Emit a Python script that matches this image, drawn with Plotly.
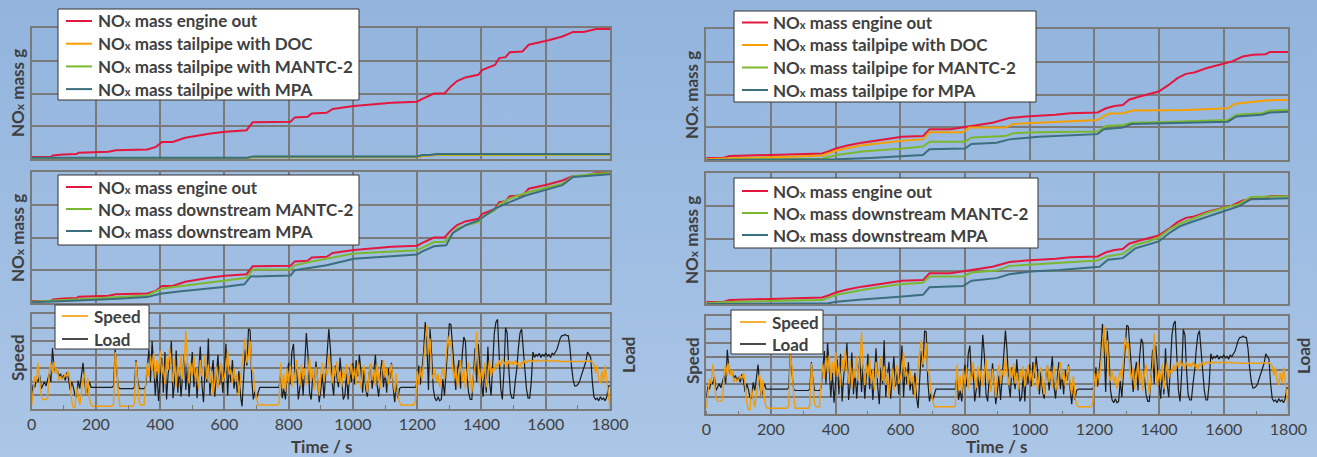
import base64
import plotly.graph_objects as go

W, H = 1317, 457

# ---------------- data ----------------
time_5s = list(range(0, 1801, 5))

speed = [
    0.2, 1.6, 2.4, 2.0, 3.4, 2.2, 1.0, 0.7, 0.7, 0.7, 0.8, 2.8, 3.4, 2.6, 3.5, 2.6, 3.0, 2.1, 2.4, 2.2,
    2.3, 2.6, 2.4, 2.8, 2.0, 0.6, 0.1, 0.1, 1.6, 0.9, 0.3, 1.2, 2.2, 2.7, 1.0, 2.3, 0.8, 0.3, 0.2, 0.2,
    0.2, 0.2, 0.2, 0.2, 0.2, 0.2, 0.2, 0.2, 0.2, 0.2, 0.2, 0.4, 4.2, 3.2, 1.2, 0.2, 0.2, 0.2, 0.2, 0.2,
    0.2, 0.2, 0.2, 0.2, 0.4, 3.5, 2.0, 0.5, 0.3, 0.3, 0.3, 2.0, 3.4, 2.4, 3.9, 2.8, 4.1, 2.2, 3.6, 2.6,
    4.3, 2.5, 3.3, 1.8, 3.8, 2.9, 4.5, 3.0, 2.0, 3.7, 1.6, 3.2, 2.4, 4.0, 2.2, 3.6, 5.8, 3.3, 1.9, 3.4,
    2.5, 3.9, 2.0, 3.0, 1.5, 3.6, 2.4, 3.0, 4.0, 2.2, 3.3, 1.9, 2.8, 1.0, 2.3, 3.1, 1.5, 2.6, 3.4, 2.0,
    2.4, 3.0, 4.3, 2.5, 2.9, 1.9, 3.0, 2.0, 2.6, 1.0, 2.2, 3.0, 4.4, 5.2, 3.4, 4.0, 5.0, 3.0, 2.6, 1.4,
    0.8, 0.3, 0.3, 0.3, 0.3, 0.3, 0.3, 0.3, 0.3, 0.3, 0.3, 0.3, 0.3, 0.3, 0.4, 3.4, 1.5, 2.6, 1.3, 3.0,
    2.0, 3.2, 1.6, 2.8, 2.1, 3.6, 2.4, 1.7, 3.3, 2.2, 3.0, 1.8, 2.7, 3.8, 2.0, 2.9, 1.4, 3.1, 2.3, 1.0,
    2.6, 3.4, 2.0, 3.0, 2.5, 4.0, 2.8, 1.9, 3.2, 2.4, 3.5, 2.0, 2.8, 1.6, 3.0, 2.2, 3.3, 1.8, 2.6, 3.4,
    2.2, 3.0, 1.8, 3.5, 2.4, 1.5, 2.8, 3.2, 2.0, 1.2, 2.6, 3.4, 2.1, 2.9, 1.7, 3.3, 2.4, 1.5, 2.8, 3.6,
    2.3, 3.0, 1.8, 2.7, 3.3, 2.0, 1.2, 2.6, 1.0, 0.5, 0.3, 0.3, 0.3, 0.3, 0.3, 0.3, 0.3, 0.3, 0.3, 0.6,
    2.8, 1.8, 3.0, 2.2, 3.5, 4.8, 6.2, 4.0, 5.2, 2.6, 2.2, 3.0, 2.0, 2.6, 1.6, 2.4, 3.0, 2.2, 4.0, 5.4,
    4.6, 5.0, 3.0, 2.2, 3.2, 1.6, 2.6, 3.6, 2.0, 3.0, 1.5, 2.8, 3.4, 2.0, 1.2, 2.6, 3.2, 5.7, 3.0, 1.8,
    3.0, 2.2, 3.4, 1.6, 2.6, 3.6, 2.4, 3.0, 2.8, 3.4, 3.0, 3.6, 3.2, 3.7, 3.3, 3.5, 3.1, 3.6, 3.3, 3.5,
    3.2, 3.6, 3.3, 3.4, 3.0, 3.5, 3.3, 3.6, 3.4, 3.6, 3.5, 3.6, 3.5, 3.6, 3.5, 3.6, 3.55, 3.5, 3.6, 3.55,
    3.55, 3.6, 3.5, 3.55, 3.6, 3.5, 3.55, 3.5, 3.55, 3.5, 3.5, 3.45, 3.5, 3.5, 3.45, 3.5, 3.5, 3.45, 3.5, 3.5,
    3.5, 3.5, 3.45, 3.5, 3.5, 3.55, 3.5, 3.5, 3.55, 3.4, 3.3, 2.6, 3.2, 2.2, 1.9, 2.8, 2.0, 3.2, 2.2, 0.8,
    0.0,
]

load = [
    1.0, 1.8, 1.6, 2.2, 2.0, 2.5, 1.5, 1.8, 2.0, 1.7, 2.1, 2.6, 2.0, 4.5, 3.0, 2.7, 2.9, 2.4, 2.6, 2.2,
    2.5, 2.1, 2.7, 2.2, 1.4, 2.0, 1.6, 1.0, 0.9, 2.1, 1.5, 2.4, 3.4, 2.0, 1.0, 1.5, 2.0, 1.6, 1.6, 1.6,
    1.6, 1.6, 1.6, 1.6, 1.6, 1.6, 1.6, 1.6, 1.6, 1.6, 1.6, 1.7, 4.4, 2.8, 1.6, 1.5, 1.5, 1.5, 1.5, 1.5,
    1.5, 1.5, 1.5, 1.5, 1.6, 3.6, 2.2, 1.5, 1.5, 1.5, 1.5, 1.7, 3.0, 4.4, 2.0, 5.0, 3.2, 1.0, 2.8, 0.6,
    2.2, 3.8, 1.2, 4.2, 0.7, 2.6, 3.5, 5.0, 0.8, 2.0, 4.3, 1.2, 3.0, 0.9, 2.6, 4.0, 1.4, 3.4, 0.9, 2.4,
    4.2, 1.6, 3.0, 0.8, 2.5, 4.6, 1.8, 0.5, 3.2, 2.0, 5.2, 1.0, 2.6, 3.6, 0.9, 2.4, 4.0, 1.8, 3.0, 1.2,
    2.8, 4.8, 1.0, 3.2, 2.0, 3.6, 1.5, 2.4, 1.2, 2.8, 1.0, 0.2, 2.4, 4.4, 3.2, 5.9, 5.8, 2.2, 0.7, 1.3,
    0.8, 1.3, 1.6, 1.6, 1.6, 1.6, 1.6, 1.6, 1.6, 1.6, 1.6, 1.6, 1.6, 1.6, 1.6, 2.6, 0.8, 1.5, 0.7, 2.5,
    3.4, 1.8, 4.2, 4.8, 2.4, 3.0, 0.7, 1.6, 2.8, 1.0, 3.8, 5.6, 4.0, 1.2, 0.7, 2.5, 1.6, 3.5, 2.2, 0.5,
    1.4, 2.6, 0.8, 2.2, 4.2, 5.9, 4.4, 2.0, 1.0, 3.2, 2.4, 1.6, 3.8, 2.0, 0.7, 1.0, 2.6, 0.7, 3.0, 2.0,
    3.4, 1.8, 3.6, 2.4, 4.0, 2.8, 1.2, 3.0, 1.4, 0.9, 2.6, 3.3, 1.5, 2.8, 4.0, 1.8, 0.9, 2.4, 3.6, 1.6,
    2.8, 1.2, 3.0, 2.2, 3.4, 1.6, 0.5, 2.0, 0.8, 1.5, 1.6, 1.6, 1.6, 1.6, 1.6, 1.6, 1.6, 1.6, 1.6, 1.6,
    2.0, 3.2, 1.8, 2.8, 4.2, 6.4, 5.0, 1.4, 5.9, 4.0, 1.5, 0.8, 0.6, 0.9, 0.6, 0.7, 2.2, 1.0, 3.0, 5.0,
    6.3, 6.2, 4.4, 2.6, 1.4, 2.8, 3.6, 1.5, 4.0, 5.3, 5.0, 2.4, 1.2, 0.7, 0.7, 2.5, 4.5, 2.0, 4.8, 3.2,
    1.8, 0.9, 3.0, 1.2, 4.6, 2.0, 1.0, 3.4, 5.6, 6.4, 6.6, 4.0, 1.5, 0.7, 2.8, 6.0, 5.6, 3.0, 1.2, 0.8,
    0.8, 2.0, 3.0, 4.5, 5.6, 5.9, 4.2, 2.6, 1.5, 0.8, 0.8, 2.0, 4.2, 3.8, 4.0, 3.9, 4.1, 3.8, 4.0, 3.9,
    4.1, 3.9, 4.0, 3.8, 4.1, 4.0, 4.2, 4.4, 4.8, 5.2, 5.4, 5.4, 5.5, 5.4, 5.4, 4.6, 3.2, 2.2, 1.7, 1.7,
    1.8, 2.0, 2.4, 2.8, 3.2, 3.5, 4.2, 4.0, 3.8, 2.0, 0.9, 0.7, 0.8, 0.6, 0.9, 0.7, 0.8, 0.6, 0.9, 1.7,
    1.7,
]

# left column cumulative NOx (grid units)
L_eo_t = [0, 60, 66, 98, 140, 146, 240, 262, 360, 387, 406, 439, 478, 557, 603, 669, 688, 806, 819, 859,
          872, 918, 937, 1003, 1121, 1200, 1213, 1232, 1252, 1285, 1304, 1324, 1350, 1390, 1403, 1442,
          1455, 1475, 1488, 1527, 1547, 1606, 1652, 1685, 1718, 1757, 1800]
L_eo_v = [0.06, 0.06, 0.11, 0.14, 0.15, 0.19, 0.22, 0.27, 0.29, 0.37, 0.52, 0.52, 0.65, 0.78, 0.83, 0.88,
          1.12, 1.14, 1.27, 1.29, 1.39, 1.41, 1.53, 1.62, 1.72, 1.75, 1.82, 1.92, 2.0, 2.0, 2.21, 2.38,
          2.49, 2.57, 2.72, 2.87, 3.08, 3.11, 3.26, 3.28, 3.49, 3.62, 3.74, 3.88, 3.88, 3.97, 3.97]

L_doc_t = [0, 670, 690, 1200, 1220, 1260, 1800]
L_doc_v = [0.01, 0.02, 0.05, 0.05, 0.09, 0.12, 0.13]
L_mantc_t = [0, 670, 690, 1200, 1215, 1260, 1800]
L_mantc_v = [0.03, 0.03, 0.07, 0.07, 0.11, 0.14, 0.14]
L_mpa_t = [0, 670, 690, 1200, 1215, 1240, 1260, 1800]
L_mpa_v = [0.04, 0.04, 0.08, 0.08, 0.12, 0.12, 0.15, 0.15]

L_dmantc_t = [0, 72, 144, 262, 360, 406, 478, 603, 669, 688, 806, 819, 872, 937, 1003, 1200, 1232,
              1252, 1285, 1304, 1324, 1350, 1390, 1403, 1442, 1455, 1488, 1547, 1606, 1652, 1685, 1757, 1800]
L_dmantc_v = [0.04, 0.08, 0.13, 0.18, 0.23, 0.44, 0.54, 0.69, 0.77, 1.02, 1.02, 1.15, 1.27, 1.40, 1.51,
              1.61, 1.76, 1.86, 1.86, 2.07, 2.27, 2.37, 2.47, 2.63, 2.83, 3.01, 3.19, 3.39, 3.52, 3.64,
              3.87, 3.95, 3.97]
L_dmpa_t = [0, 72, 144, 269, 360, 400, 465, 597, 662, 682, 806, 819, 918, 1003, 1200, 1213, 1252, 1290,
            1311, 1350, 1390, 1442, 1475, 1540, 1652, 1685, 1757, 1800]
L_dmpa_v = [0.02, 0.04, 0.08, 0.13, 0.18, 0.28, 0.36, 0.49, 0.57, 0.81, 0.84, 1.00, 1.15, 1.35, 1.48,
            1.56, 1.73, 1.76, 2.14, 2.37, 2.52, 2.88, 3.03, 3.29, 3.60, 3.85, 3.90, 3.93]

# right column cumulative NOx (grid units)
R_eo_t = [0, 52, 72, 156, 260, 358, 377, 403, 436, 481, 559, 605, 670, 690, 755, 820, 885, 937, 989,
          1080, 1125, 1210, 1236, 1262, 1288, 1307, 1340, 1399, 1431, 1457, 1483, 1509, 1548, 1587, 1626,
          1659, 1691, 1730, 1743, 1800]
R_eo_v = [0.06, 0.06, 0.12, 0.15, 0.18, 0.20, 0.26, 0.36, 0.44, 0.53, 0.64, 0.71, 0.73, 0.94, 0.94,
          1.05, 1.14, 1.28, 1.33, 1.38, 1.43, 1.45, 1.58, 1.65, 1.68, 1.84, 1.94, 2.09, 2.30, 2.50, 2.63,
          2.67, 2.81, 2.91, 3.01, 3.16, 3.21, 3.23, 3.30, 3.30]
R_doc_t = [0, 72, 260, 358, 403, 481, 605, 670, 690, 794, 813, 924, 950, 1028, 1132, 1210, 1242, 1288,
           1320, 1483, 1613, 1633, 1678, 1730, 1800]
R_doc_v = [0.02, 0.05, 0.10, 0.14, 0.29, 0.45, 0.59, 0.63, 0.85, 0.85, 0.99, 0.99, 1.10, 1.14, 1.20,
           1.22, 1.41, 1.43, 1.51, 1.53, 1.58, 1.71, 1.76, 1.82, 1.84]
R_mantc_t = [0, 358, 403, 481, 598, 670, 690, 800, 820, 924, 950, 1028, 1210, 1236, 1288, 1314, 1418,
             1613, 1639, 1717, 1743, 1800]
R_mantc_v = [0.0, 0.04, 0.15, 0.26, 0.34, 0.41, 0.56, 0.56, 0.69, 0.73, 0.82, 0.85, 0.87, 1.04, 1.07,
             1.14, 1.16, 1.22, 1.38, 1.43, 1.51, 1.53]
R_mpa_t = [0, 377, 403, 507, 637, 670, 690, 800, 820, 898, 937, 1028, 1210, 1229, 1288, 1314, 1418,
           1613, 1639, 1717, 1743, 1800]
R_mpa_v = [0.0, 0.0, 0.02, 0.06, 0.13, 0.15, 0.33, 0.35, 0.49, 0.53, 0.63, 0.71, 0.79, 0.94, 0.99,
           1.10, 1.12, 1.17, 1.33, 1.38, 1.45, 1.47]

R_dmantc_t = [0, 65, 195, 358, 403, 455, 494, 598, 670, 690, 794, 820, 898, 937, 989, 1067, 1210, 1236,
              1288, 1327, 1366, 1399, 1431, 1464, 1496, 1548, 1600, 1646, 1684, 1800]
R_dmantc_v = [0.02, 0.06, 0.09, 0.12, 0.28, 0.38, 0.45, 0.60, 0.65, 0.84, 0.84, 0.96, 1.02, 1.16, 1.19,
              1.24, 1.33, 1.45, 1.53, 1.81, 1.91, 2.03, 2.27, 2.45, 2.57, 2.78, 2.93, 3.05, 3.27, 3.29]
R_dmpa_t = [0, 377, 403, 481, 598, 670, 690, 794, 820, 898, 937, 1002, 1093, 1216, 1242, 1288, 1327,
            1366, 1399, 1431, 1464, 1496, 1548, 1600, 1646, 1684, 1800]
R_dmpa_v = [0.0, 0.02, 0.07, 0.14, 0.22, 0.28, 0.51, 0.55, 0.71, 0.79, 0.91, 0.99, 1.04, 1.14, 1.35,
            1.40, 1.70, 1.81, 1.91, 2.16, 2.37, 2.49, 2.67, 2.83, 2.98, 3.20, 3.23]

x_ticks = [0, 200, 400, 600, 800, 1000, 1200, 1400, 1600, 1800]

# ---------------- styling ----------------
RED = "#e3173e"
ORANGE = "#f5a000"
GREEN = "#7cb82f"
TEAL = "#3b6f7d"
SPEED_C = "#f39c0a"
LOAD_C = "#1c1c1c"
GRID = "#7a7a7a"
TXT = "#404040"
FONT = "Lato"


def px(x):
    return x / W


def py(y):
    return 1 - y / H


fig = go.Figure()
panel_traces = {}


def add(ax, t, v, name, color, width):
    fig.add_trace(go.Scatter(
        x=t, y=v, mode="lines", name=name,
        line=dict(color=color, width=width),
        xaxis="x" + ax, yaxis="y" + ax, showlegend=False, hoverinfo="skip"))
    panel_traces.setdefault(ax, []).append((name, color, width))


NO = "NO<span style='font-size:11px'>x</span>"
# left top
add("", L_eo_t, L_eo_v, NO + " mass engine out", RED, 2)
add("", L_doc_t, L_doc_v, NO + " mass tailpipe with DOC", ORANGE, 2)
add("", L_mantc_t, L_mantc_v, NO + " mass tailpipe with MANTC-2", GREEN, 2)
add("", L_mpa_t, L_mpa_v, NO + " mass tailpipe with MPA", TEAL, 2)
# left middle
add("2", L_eo_t, L_eo_v, NO + " mass engine out", RED, 2)
add("2", L_dmantc_t, L_dmantc_v, NO + " mass downstream MANTC-2", GREEN, 2)
add("2", L_dmpa_t, L_dmpa_v, NO + " mass downstream MPA", TEAL, 2)
# left bottom
add("3", time_5s, load, "Load", LOAD_C, 1.2)
add("3", time_5s, speed, "Speed", SPEED_C, 1.4)
# right top
add("4", R_eo_t, R_eo_v, NO + " mass engine out", RED, 2)
add("4", R_doc_t, R_doc_v, NO + " mass tailpipe with DOC", ORANGE, 2)
add("4", R_mantc_t, R_mantc_v, NO + " mass tailpipe for MANTC-2", GREEN, 2)
add("4", R_mpa_t, R_mpa_v, NO + " mass tailpipe for MPA", TEAL, 2)
# right middle
add("5", R_eo_t, R_eo_v, NO + " mass engine out", RED, 2)
add("5", R_dmantc_t, R_dmantc_v, NO + " mass downstream MANTC-2", GREEN, 2)
add("5", R_dmpa_t, R_dmpa_v, NO + " mass downstream MPA", TEAL, 2)
# right bottom
add("6", time_5s, load, "Load", LOAD_C, 1.2)
add("6", time_5s, speed, "Speed", SPEED_C, 1.4)

LX = [px(31.6), px(610)]
RX = [px(706.3), px(1288.4)]
panels = {
    "": (LX, [py(159), py(28)], [0, 4], False),
    "2": (LX, [py(303), py(172)], [0, 4], False),
    "3": (LX, [py(409), py(314)], [0, 7], True),
    "4": (RX, [py(160), py(29)], [0, 4], False),
    "5": (RX, [py(304), py(173)], [0, 4], False),
    "6": (RX, [py(414.3), py(315.7)], [-0.25, 7], True),
}

layout = {}
for k, (xd, yd, yr, bottom) in panels.items():
    xa = dict(domain=xd, range=[0, 1800], anchor="y" + k, tickvals=x_ticks,
              showgrid=True, gridcolor=GRID, gridwidth=1.5, zeroline=False,
              showline=True, mirror=True, linecolor=GRID, linewidth=1.5,
              ticks="", showticklabels=bottom, fixedrange=True, automargin=False,
              tickfont=dict(family=FONT, size=16, color=TXT))
    if bottom:
        xa["minor"] = dict(dtick=100, ticks="inside", ticklen=4, tickcolor=GRID,
                           tickwidth=1, showgrid=False)
    ya = dict(domain=yd, range=yr, anchor="x" + k,
              tickvals=list(range(0, int(yr[1]) + 1)) if not bottom else list(range(1, 8)),
              showgrid=True, gridcolor=GRID, gridwidth=1.5, zeroline=False,
              showline=True, mirror=True, linecolor=GRID, linewidth=1.5,
              ticks="", showticklabels=False, fixedrange=True, automargin=False)
    layout["xaxis" + k] = xa
    layout["yaxis" + k] = ya

# ---------------- legend boxes (drawn as shapes + text) ----------------
# (panel key, box left, top, right, bottom, first row centre, row step, sample x0, x1, text x, entry order)
legend_boxes = [
    ("", 58, 9, 359, 100, 21, 22.7, 66, 92, 96, "normal"),
    ("2", 58, 175, 359, 245, 187, 22, 66, 92, 96, "normal"),
    ("3", 55, 305, 149, 349, 316, 23, 62, 88, 92, "reversed"),
    ("4", 734, 11, 1036, 102, 22.5, 22.5, 742, 768, 771, "normal"),
    ("5", 734, 178, 1038, 248, 191, 22, 742, 768, 771, "normal"),
    ("6", 731, 310, 823, 354, 322, 22, 740, 766, 770, "reversed"),
]
shapes = []
annotations = []
leg_font = dict(family=FONT, size=17, color=TXT, weight="bold")
for key, bl, bt, br, bb, r0, step, sx0, sx1, tx, order in legend_boxes:
    shapes.append(dict(type="rect", xref="paper", yref="paper",
                       x0=px(bl), x1=px(br), y0=py(bb), y1=py(bt),
                       fillcolor="white", line=dict(color="#333333", width=1), layer="above"))
    entries = panel_traces[key]
    if order == "reversed":
        entries = entries[::-1]
    for i, (name, color, width) in enumerate(entries):
        yc = r0 + i * step
        shapes.append(dict(type="line", xref="paper", yref="paper",
                           x0=px(sx0), x1=px(sx1), y0=py(yc), y1=py(yc),
                           line=dict(color=color, width=max(width, 1.6)), layer="above"))
        annotations.append(dict(text=name, x=px(tx), y=py(yc), xref="paper", yref="paper",
                                showarrow=False, font=leg_font, xanchor="left", yanchor="middle"))

ann_font = dict(family=FONT, size=17, color=TXT, weight="bold")


def vlabel(text, x, y):
    annotations.append(dict(text=text, x=px(x), y=py(y), xref="paper", yref="paper",
                            showarrow=False, textangle=-90, font=ann_font,
                            xanchor="center", yanchor="middle"))


NOg = "NO<span style='font-size:12px'>x</span> mass g"
vlabel(NOg, 17, 93)
vlabel(NOg, 17, 238)
vlabel(NOg, 692, 95)
vlabel(NOg, 692, 240)
vlabel("Speed", 17, 358)
vlabel("Speed", 692, 361)
vlabel("Load", 628, 355)
vlabel("Load", 1303, 356)
for cx in (321, 997):
    annotations.append(dict(text="Time / s", x=px(cx), y=py(446), xref="paper", yref="paper",
                            showarrow=False, font=ann_font, xanchor="center", yanchor="middle"))

svg = ("<svg xmlns='http://www.w3.org/2000/svg' width='1317' height='457'>"
       "<defs><linearGradient id='g' x1='0' y1='0' x2='0' y2='1'>"
       "<stop offset='0' stop-color='#92b4dd'/><stop offset='0.5' stop-color='#9ebde2'/>"
       "<stop offset='1' stop-color='#abc6e6'/></linearGradient></defs>"
       "<rect width='1317' height='457' fill='url(#g)'/></svg>")
bg_src = "data:image/svg+xml;base64," + base64.b64encode(svg.encode()).decode()

fig.update_layout(
    width=W, height=H, autosize=False, margin=dict(l=0, r=0, t=0, b=0, pad=0, autoexpand=False),
    paper_bgcolor="#9ebde2", plot_bgcolor="rgba(0,0,0,0)",
    font=dict(family=FONT, color=TXT),
    showlegend=False, annotations=annotations, shapes=shapes,
    images=[dict(source=bg_src, xref="paper", yref="paper", x=0, y=1, sizex=1, sizey=1,
                 sizing="stretch", layer="below", xanchor="left", yanchor="top")],
    **layout,
)

fig.write_html(
    "out.html",
    config={"displayModeBar": False, "responsive": False},
    post_script=("document.body.style.margin='0';document.body.style.overflow='hidden';"
                 "document.documentElement.style.overflow='hidden';"
                 "var gd=document.getElementById('{plot_id}');"
                 "Plotly.relayout(gd,{width:1317,height:457});"),
)
